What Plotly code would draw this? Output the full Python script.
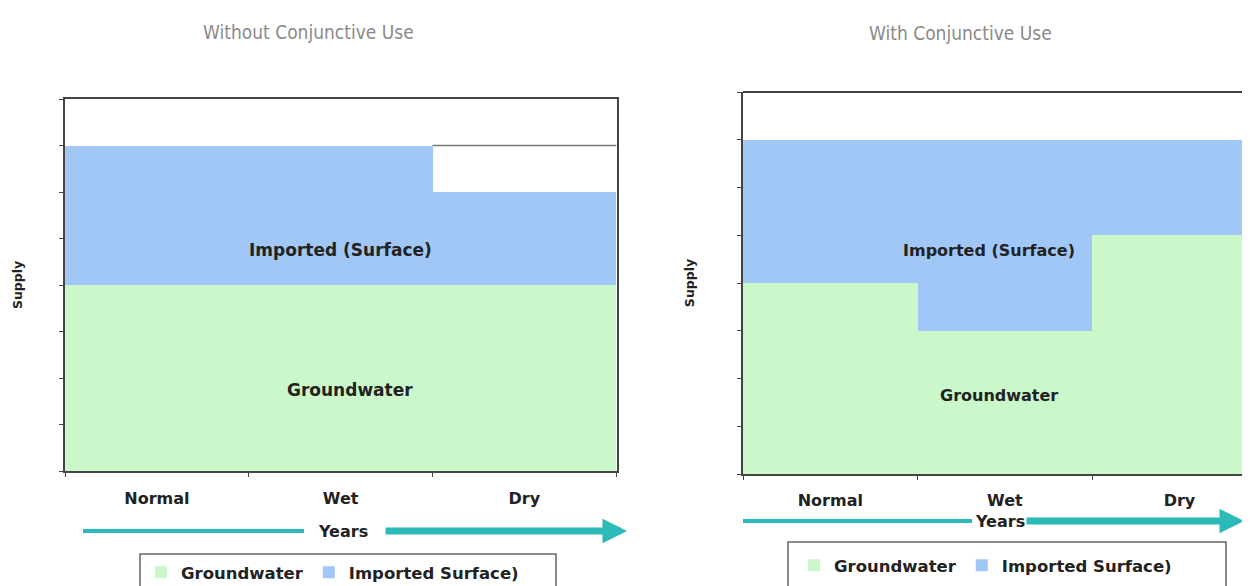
import plotly.graph_objects as go

categories = ["Normal", "Wet", "Dry"]
left_groundwater = [4, 4, 4]
left_imported = [3, 3, 2]
right_groundwater = [4, 3, 5]
right_imported = [3, 4, 2]
y_ticks = [0, 1, 2, 3, 4, 5, 6, 7, 8]
titles = ["Without Conjunctive Use", "With Conjunctive Use"]
series_names = ["Groundwater", "Imported Surface)"]
area_labels = ["Imported (Surface)", "Groundwater"]

W, H = 1250, 586
OFF = 8  # page body margin
GREEN = "#cbf8cb"
BLUE = "#a0c7f6"
TEAL = "#2bbab8"
BOLD = "DejaVu Sans"
DARK = "#222"


def px(xp):
    return (xp - OFF) / W


def py(yp):
    return 1 - (yp - OFF) / H


fig = go.Figure()
for gw, imp, xa, ya, lg in [(left_groundwater, left_imported, "x", "y", "legend"),
                            (right_groundwater, right_imported, "x2", "y2", "legend2")]:
    fig.add_trace(go.Bar(x=categories, y=gw, name=series_names[0],
                         marker=dict(color=GREEN, line=dict(width=0)),
                         xaxis=xa, yaxis=ya, legend=lg))
    fig.add_trace(go.Bar(x=categories, y=imp, name=series_names[1],
                         marker=dict(color=BLUE, line=dict(width=0)),
                         xaxis=xa, yaxis=ya, legend=lg))

axis_common = dict(showgrid=False, zeroline=False, linecolor="#444", linewidth=2,
                   ticks="outside", ticklen=4, tickcolor="#444", automargin=False)
tick_font = dict(family=BOLD, size=16, color=DARK, weight="bold")
supply_font = dict(family=BOLD, size=12.5, color=DARK, weight="bold")
legend_font = dict(family=BOLD, size=16.5, color=DARK, weight="bold")

fig.update_layout(
    width=W, height=H,
    margin=dict(l=0, r=0, t=0, b=0, autoexpand=False),
    paper_bgcolor="white", plot_bgcolor="white",
    barmode="stack", bargap=0,
    showlegend=True,
    xaxis=dict(domain=[px(65), px(617)], anchor="y", tickson="boundaries", mirror=True,
               tickfont=tick_font, ticklabelstandoff=12, **axis_common),
    yaxis=dict(domain=[py(471), py(99)], anchor="x", range=[0, 8], tickvals=y_ticks,
               showticklabels=False, mirror=True,
               title=dict(text="Supply", font=supply_font, standoff=34), **axis_common),
    xaxis2=dict(domain=[px(743), 1.0], anchor="y2", tickson="boundaries", mirror=False,
                range=[-0.5, 2.45],
                tickfont=tick_font, ticklabelstandoff=11, **axis_common),
    yaxis2=dict(domain=[py(474), py(92)], anchor="x2", range=[0, 8], tickvals=y_ticks,
                showticklabels=False, mirror=False,
                title=dict(text="Supply", font=supply_font, standoff=40), **axis_common),
    legend=dict(orientation="h", xref="container", yref="container",
                x=px(141), y=py(555), xanchor="left", yanchor="top",
                borderwidth=0, bgcolor="rgba(0,0,0,0)", itemwidth=30,
                traceorder="normal", font=legend_font),
    legend2=dict(orientation="h", xref="container", yref="container",
                 x=px(794), y=py(548), xanchor="left", yanchor="top",
                 borderwidth=0, bgcolor="rgba(0,0,0,0)", itemwidth=30,
                 traceorder="normal", font=legend_font),
)

# legend frames
fig.add_shape(type="rect", xref="paper", yref="paper", x0=px(140), x1=px(556),
              y0=py(610), y1=py(554), line=dict(color="#666", width=1.5),
              fillcolor="white", layer="below")
fig.add_shape(type="rect", xref="paper", yref="paper", x0=px(788), x1=px(1226),
              y0=py(587), y1=py(542), line=dict(color="#666", width=1.5),
              fillcolor="white", layer="below")

# top border for the right chart
fig.add_shape(type="line", xref="x2 domain", yref="y2 domain", x0=0, x1=1, y0=1, y1=1,
              line=dict(color="#444", width=2))

# edge of the shortfall in the dry year (left chart)
full_total = max(g + i for g, i in zip(left_groundwater, left_imported))
dry_idx = categories.index("Dry")
fig.add_shape(type="line", xref="x", yref="y", x0=dry_idx - 0.5, x1=dry_idx + 0.5,
              y0=full_total, y1=full_total, line=dict(color="#777", width=1.5))

# titles
title_font = dict(family="DejaVu Sans Condensed", size=19, color="#8a8a8a", weight=200)
fig.add_annotation(text=titles[0], xref="paper", yref="paper", x=px(308), y=py(32),
                   xanchor="center", yanchor="middle", showarrow=False, font=title_font)
fig.add_annotation(text=titles[1], xref="paper", yref="paper", x=px(960), y=py(33),
                   xanchor="center", yanchor="middle", showarrow=False, font=title_font)

# area labels
wet_idx = categories.index("Wet")
lab_left = dict(family=BOLD, size=17, color=DARK, weight="bold")
lab_right = dict(family=BOLD, size=16, color=DARK, weight="bold")
fig.add_annotation(text=area_labels[0], xref="x", yref="y", x=wet_idx, y=4.75,
                   showarrow=False, font=lab_left)
fig.add_annotation(text=area_labels[1], xref="x", yref="y", x=wet_idx + 0.05, y=1.74,
                   showarrow=False, font=lab_left)
fig.add_annotation(text=area_labels[0], xref="x2", yref="y2", x=wet_idx - 0.09, y=4.69,
                   showarrow=False, font=lab_right)
fig.add_annotation(text=area_labels[1], xref="x2", yref="y2", x=wet_idx - 0.035, y=1.65,
                   showarrow=False, font=lab_right)


# "Years" arrows
def years(xl0, xl1, xtext, xa0, xa1, ypx):
    yp = py(ypx)
    fig.add_shape(type="line", xref="paper", yref="paper", x0=px(xl0), x1=px(xl1),
                  y0=yp, y1=yp, line=dict(color=TEAL, width=4))
    fig.add_annotation(text="Years", xref="paper", yref="paper", x=px(xtext), y=yp,
                       xanchor="center", yanchor="middle", showarrow=False,
                       font=dict(family=BOLD, size=16, color=DARK, weight="bold"))
    fig.add_annotation(text="", xref="paper", yref="paper", axref="pixel", ayref="pixel",
                       x=px(xa1), y=yp, ax=-(xa1 - xa0), ay=0, showarrow=True,
                       arrowhead=2, arrowsize=0.7, arrowwidth=7, arrowcolor=TEAL, standoff=0)


years(83, 304, 343, 384, 627, 531)
years(743, 972, 1000, 1025, 1244, 521)

fig.write_html("out.html")
